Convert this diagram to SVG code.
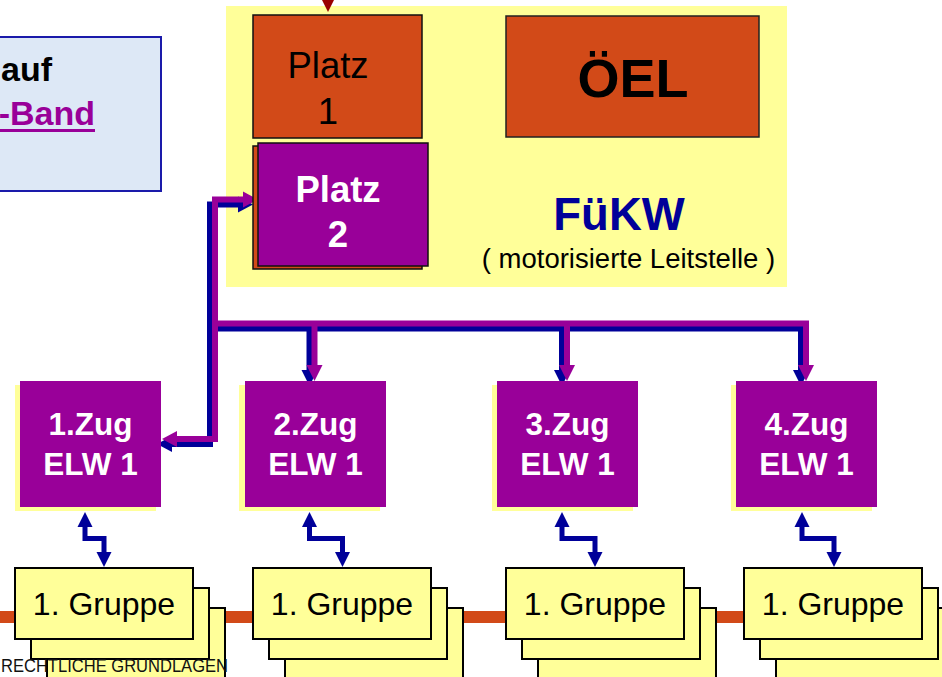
<svg xmlns="http://www.w3.org/2000/svg" width="942" height="677" viewBox="0 0 942 677">
<style>
text{font-family:"Liberation Sans",Arial,sans-serif}
.zs{fill:#FFFF99}
.zug{fill:#990099}
.zt{fill:#fff;font-weight:bold;font-size:31.5px;text-anchor:middle}
.g{fill:#FFFF99;stroke:#000;stroke-width:2}
.gt{font-size:32px;text-anchor:middle;fill:#000}
.bolt{fill:none;stroke:#000099;stroke-width:5}
.bh{fill:#000099}
.pl{fill:none;stroke:#990099;stroke-width:6}
.ph{fill:#990099}
.bl{fill:none;stroke:#000099;stroke-width:6}
.bh2{fill:#000099}
</style>
<rect width="942" height="677" fill="#fff"/>

<g id="infobox">
<rect x="-10" y="37" width="171" height="154" fill="#DDE8F6" stroke="#1A1AAA" stroke-width="2"/>
<text x="52" y="81" font-size="34" font-weight="bold" text-anchor="end" fill="#000">auf</text>
<text x="95" y="125" font-size="34" font-weight="bold" text-anchor="end" fill="#990099">-Band</text>
<rect x="0" y="129" width="95" height="3" fill="#990099"/>
</g>

<g id="fuekw">
<rect x="226" y="6" width="561" height="281" fill="#FFFF99"/>
<text x="619" y="230" font-size="45.5" font-weight="bold" text-anchor="middle" fill="#000099">FüKW</text>
<text x="628.5" y="268" font-size="27.5" text-anchor="middle" fill="#000">( motorisierte Leitstelle )</text>
</g>

<g id="top-arrow">
<polygon points="322,0 334,0 328,12" fill="#990000"/>
</g>

<g id="platz1">
<rect x="253" y="15" width="169" height="123" fill="#D24A18" stroke="#111" stroke-width="1.5"/>
<text x="328" y="78" font-size="36.5" text-anchor="middle" fill="#000">Platz</text>
<text x="328" y="124" font-size="36.5" text-anchor="middle" fill="#000">1</text>
</g>

<g id="oel">
<rect x="506" y="16" width="253" height="121" fill="#D24A18" stroke="#222" stroke-width="1.5"/>
<text x="633" y="97" font-size="54" font-weight="bold" text-anchor="middle" fill="#000">ÖEL</text>
</g>

<g id="connectors">
<g transform="translate(-5,5)">
<path class="bl" d="M244,199.5 H215 V439 H176"/>
<path class="bl" d="M212,323.5 H806 V366"/>
<path class="bl" d="M314.5,323.5 V366"/>
<path class="bl" d="M567,323.5 V366"/>
<polygon class="bh2" points="243,191.5 258,199.5 243,207.5"/>
<polygon class="bh2" points="177,431 162,439 177,447"/>
<polygon class="bh2" points="306.5,365 322.5,365 314.5,381"/>
<polygon class="bh2" points="559,365 575,365 567,381"/>
<polygon class="bh2" points="798,365 814,365 806,381"/>
</g>
<path class="pl" d="M244,199.5 H215 V439 H176"/>
<path class="pl" d="M212,323.5 H806 V366"/>
<path class="pl" d="M314.5,323.5 V366"/>
<path class="pl" d="M567,323.5 V366"/>
<polygon class="ph" points="243,191.5 258,199.5 243,207.5"/>
<polygon class="ph" points="177,431 162,439 177,447"/>
<polygon class="ph" points="306.5,365 322.5,365 314.5,381"/>
<polygon class="ph" points="559,365 575,365 567,381"/>
<polygon class="ph" points="798,365 814,365 806,381"/>
<rect x="0" y="611" width="942" height="12" fill="#D24A18"/>
<path class="bolt" d="M85,525 V538.5 H104 V554"/>
<polygon class="bh" points="77.5,527 85,512 92.5,527"/>
<polygon class="bh" points="96.5,552 104,567 111.5,552"/>
<path class="bolt" d="M309.5,525 V538.5 H342.5 V554"/>
<polygon class="bh" points="302,527 309.5,512 317,527"/>
<polygon class="bh" points="335,552 342.5,567 350,552"/>
<path class="bolt" d="M562,525 V538.5 H595 V554"/>
<polygon class="bh" points="554.5,527 562,512 569.5,527"/>
<polygon class="bh" points="587.5,552 595,567 602.5,552"/>
<path class="bolt" d="M802,525 V538.5 H834 V554"/>
<polygon class="bh" points="794.5,527 802,512 809.5,527"/>
<polygon class="bh" points="826.5,552 834,567 841.5,552"/>
</g>

<g id="platz2">
<rect x="253" y="146" width="169" height="123" fill="#D24A18" stroke="#111" stroke-width="1.5"/>
<rect x="258" y="143" width="170" height="123" fill="#990099" stroke="#111" stroke-width="1.5"/>
<text x="338" y="202" font-size="36.5" font-weight="bold" text-anchor="middle" fill="#fff">Platz</text>
<text x="338" y="247" font-size="36.5" font-weight="bold" text-anchor="middle" fill="#fff">2</text>
</g>

<g id="zug1">
<rect class="zs" x="15" y="385" width="141" height="126"/>
<rect class="zug" x="20" y="381" width="141" height="126"/>
<text class="zt" x="90.5" y="435">1.Zug</text>
<text class="zt" x="90.5" y="475">ELW 1</text>
</g>
<g id="zug2">
<rect class="zs" x="239" y="385" width="141" height="126"/>
<rect class="zug" x="245" y="381" width="141" height="126"/>
<text class="zt" x="315.5" y="435">2.Zug</text>
<text class="zt" x="315.5" y="475">ELW 1</text>
</g>
<g id="zug3">
<rect class="zs" x="492" y="385" width="141" height="126"/>
<rect class="zug" x="497" y="381" width="141" height="126"/>
<text class="zt" x="567.5" y="435">3.Zug</text>
<text class="zt" x="567.5" y="475">ELW 1</text>
</g>
<g id="zug4">
<rect class="zs" x="731" y="385" width="141" height="126"/>
<rect class="zug" x="736" y="381" width="141" height="126"/>
<text class="zt" x="806.5" y="435">4.Zug</text>
<text class="zt" x="806.5" y="475">ELW 1</text>
</g>

<g id="gruppe1">
<rect class="g" x="47" y="608" width="178" height="71"/>
<rect class="g" x="31" y="588" width="178" height="71"/>
<rect class="g" x="15" y="568" width="178" height="71"/>
<text class="gt" x="104" y="615">1. Gruppe</text>
</g>
<g id="gruppe2">
<rect class="g" x="285" y="608" width="178" height="71"/>
<rect class="g" x="269" y="588" width="178" height="71"/>
<rect class="g" x="253" y="568" width="178" height="71"/>
<text class="gt" x="342" y="615">1. Gruppe</text>
</g>
<g id="gruppe3">
<rect class="g" x="538" y="608" width="178" height="71"/>
<rect class="g" x="522" y="588" width="178" height="71"/>
<rect class="g" x="506" y="568" width="178" height="71"/>
<text class="gt" x="595" y="615">1. Gruppe</text>
</g>
<g id="gruppe4">
<rect class="g" x="776" y="608" width="178" height="71"/>
<rect class="g" x="760" y="588" width="178" height="71"/>
<rect class="g" x="744" y="568" width="178" height="71"/>
<text class="gt" x="833" y="615">1. Gruppe</text>
</g>

<g id="footer">
<text x="1" y="672" font-size="17.5" fill="#111" textLength="227" lengthAdjust="spacingAndGlyphs">RECHTLICHE GRUNDLAGEN</text>
</g>
</svg>
